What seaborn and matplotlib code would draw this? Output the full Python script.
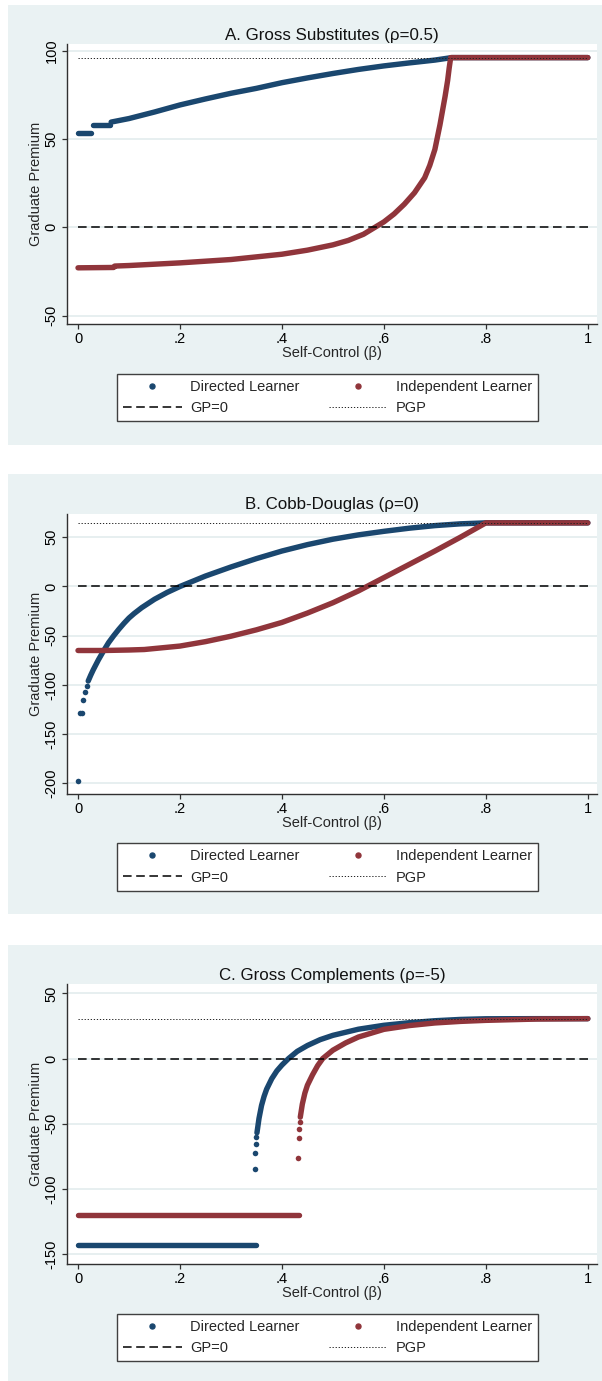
import matplotlib
matplotlib.use("Agg")
import matplotlib.pyplot as plt
from matplotlib.lines import Line2D
from matplotlib.patches import Rectangle
import pandas as pd
import seaborn as sns

BLUE = "#1A476F"
RED = "#90353B"
BG = "#EAF2F3"
GRID = "#E3ECEE"
INK = "#303030"

X_TICKS = [0, 0.2, 0.4, 0.6, 0.8, 1.0]
X_TICKLABELS = ["0", ".2", ".4", ".6", ".8", "1"]
TITLES = ["A. Gross Substitutes (ρ=0.5)", "B. Cobb-Douglas (ρ=0)", "C. Gross Complements (ρ=-5)"]
LEGEND_LABELS = ["Directed Learner", "Independent Learner", "GP=0", "PGP"]

# perfect graduate premium (dotted line) per panel
pgp = [96.0, 64.6, 30.6]

# Panel A: gross substitutes
a_dir_beta = [0.0, 0.025, 0.03, 0.062, 0.065, 0.1, 0.15, 0.2, 0.25, 0.3, 0.35, 0.4, 0.45,
              0.5, 0.55, 0.6, 0.65, 0.7, 0.733, 0.8, 0.9, 1.0]
a_dir_gp = [53.5, 53.5, 57.8, 57.8, 59.5, 61.5, 65.2, 69.2, 72.6, 75.8, 78.6, 81.8, 84.5,
            87.0, 89.3, 91.3, 93.0, 94.6, 96.0, 96.0, 96.0, 96.0]
a_dir_seg = [0, 0, 1, 1] + [2] * 18

a_ind_beta = [0.0, 0.07, 0.072, 0.1, 0.2, 0.3, 0.4, 0.45, 0.5, 0.53, 0.56, 0.58, 0.6, 0.62,
              0.64, 0.66, 0.68, 0.69, 0.7, 0.705, 0.71, 0.715, 0.72, 0.725, 0.728, 0.731,
              0.8, 0.9, 1.0]
a_ind_gp = [-23.0, -22.8, -22.0, -21.7, -20.2, -18.3, -15.3, -13.0, -10.0, -7.5, -4.0, -0.5,
            3.0, 7.5, 13.0, 19.5, 28.0, 35.0, 44.0, 51.0, 58.0, 66.0, 74.0, 83.0, 90.0, 96.0,
            96.0, 96.0, 96.0]

# Panel B: Cobb-Douglas
b_dir_dot_beta = [0.0, 0.004, 0.007, 0.009, 0.0135, 0.017]
b_dir_dot_gp = [-198.0, -128.0, -128.0, -115.5, -107.5, -101.0]
b_dir_beta = [0.02, 0.025, 0.03, 0.035, 0.04, 0.05, 0.06, 0.07, 0.08, 0.09, 0.1, 0.11,
              0.125, 0.15, 0.175, 0.2, 0.25, 0.3, 0.35, 0.4, 0.45, 0.5, 0.55, 0.6, 0.65,
              0.7, 0.75, 0.8, 0.9, 1.0]
b_dir_gp = [-96.0, -90.0, -84.5, -79.5, -74.5, -65.5, -57.0, -50.0, -43.5, -37.5, -32.0,
            -27.5, -21.5, -13.0, -6.0, 0.0, 10.6, 19.8, 28.3, 36.0, 42.5, 48.0, 52.4, 56.0,
            59.2, 61.8, 63.6, 64.6, 64.6, 64.6]

b_ind_beta = [0.0, 0.05, 0.1, 0.13, 0.15, 0.2, 0.25, 0.3, 0.35, 0.4, 0.45, 0.5, 0.55, 0.6,
              0.65, 0.7, 0.75, 0.8, 0.9, 1.0]
b_ind_gp = [-65.0, -65.0, -64.5, -64.0, -63.0, -60.5, -56.0, -50.5, -44.0, -36.5, -27.0,
            -16.5, -4.5, 9.0, 22.5, 36.0, 50.0, 64.6, 64.6, 64.6]

# Panel C: gross complements
c_dir_flat_beta = [0.0, 0.349]
c_dir_flat_gp = [-143.5, -143.5]
c_dir_dot_beta = [0.347, 0.348, 0.349, 0.35]
c_dir_dot_gp = [-85.0, -72.5, -65.5, -60.5]
c_dir_beta = [0.351, 0.355, 0.36, 0.365, 0.37, 0.38, 0.39, 0.4, 0.413, 0.43, 0.45, 0.475,
              0.5, 0.55, 0.6, 0.65, 0.7, 0.75, 0.8, 0.9, 1.0]
c_dir_gp = [-57.0, -46.0, -36.0, -29.0, -23.5, -15.5, -9.5, -5.0, 0.0, 5.5, 10.0, 14.5,
            17.8, 22.5, 25.5, 27.5, 29.0, 30.0, 30.5, 30.6, 30.6]

c_ind_flat_beta = [0.0, 0.434]
c_ind_flat_gp = [-120.0, -120.0]
c_ind_dot_beta = [0.432, 0.433, 0.434, 0.435]
c_ind_dot_gp = [-76.5, -61.0, -54.0, -49.0]
c_ind_beta = [0.436, 0.44, 0.445, 0.45, 0.46, 0.47, 0.48, 0.5, 0.525, 0.55, 0.6, 0.65, 0.7,
              0.75, 0.8, 0.9, 1.0]
c_ind_gp = [-45.0, -35.0, -26.5, -20.5, -12.5, -5.5, 0.0, 6.4, 12.0, 16.5, 22.4, 25.3, 27.3,
            28.5, 29.3, 30.3, 30.6]

Y_TICKS = [[-50, 0, 50, 100], [-200, -150, -100, -50, 0, 50], [-150, -100, -50, 0, 50]]
Y_LIMS = [(-54.8, 103.7), (-210.2, 74.1), (-157.7, 57.2)]

sns.set_style("ticks")
plt.rcParams["font.family"] = ["Liberation Sans", "DejaVu Sans"]
plt.rcParams["lines.scale_dashes"] = False
plt.rcParams["axes.unicode_minus"] = False

W, H = 602, 1381
LW = 3.9  # dense runs of points look like a thick band
DOT = 16


def band(ax, beta, gp, color, seg=None):
    if seg is None:
        seg = [0] * len(beta)
    df = pd.DataFrame({"beta": beta, "gp": gp, "seg": seg})
    sns.lineplot(data=df, x="beta", y="gp", units="seg", estimator=None, sort=False,
                 color=color, linewidth=LW, solid_capstyle="round", ax=ax, legend=False)


def dots(ax, beta, gp, color):
    sns.scatterplot(x=beta, y=gp, color=color, s=DOT, linewidth=0, ax=ax, legend=False)


def style_panel(ax, k, top_px):
    ax.set_xlim(-0.0216, 1.018)
    ax.set_ylim(*Y_LIMS[k])
    ax.set_xticks(X_TICKS, X_TICKLABELS)
    ax.set_yticks(Y_TICKS[k])
    ax.grid(axis="y", color=GRID, linewidth=1.2, zorder=0)
    ax.set_axisbelow(True)
    for side in ["top", "right"]:
        ax.spines[side].set_visible(False)
    for side in ["left", "bottom"]:
        ax.spines[side].set_color(INK)
        ax.spines[side].set_linewidth(1.0)
    ax.tick_params(axis="both", direction="out", length=3.6, width=0.9, color=INK,
                   labelsize=10.5, pad=2.4, labelcolor="black")
    ax.tick_params(axis="y", labelrotation=90)
    for t in ax.get_yticklabels():
        t.set_va("center")
    ax.set_xlabel("Self-Control (β)", fontsize=10.5, labelpad=0)
    ax.set_ylabel("Graduate Premium", fontsize=10.5, labelpad=1)
    ax.set_title(TITLES[k], fontsize=12.2, pad=3, color="#111111")
    # reference lines drawn over the data
    ax.hlines(0, 0, 1, colors="black", linewidth=1.1, linestyles=(0, (6.2, 3.3)), zorder=5)
    ax.hlines(pgp[k], 0, 1, colors="#222222", linewidth=0.7, linestyles=(0, (0.9, 1.3)),
              zorder=5)

    h_dir = Line2D([], [], marker="o", linestyle="none", color=BLUE, markersize=3.6)
    h_ind = Line2D([], [], marker="o", linestyle="none", color=RED, markersize=3.6)
    h_gp0 = Line2D([], [], color="black", linewidth=1.1, linestyle=(0, (6.2, 3.3)))
    h_pgp = Line2D([], [], color="#222222", linewidth=0.7, linestyle=(0, (0.9, 1.3)))
    # legend fills column by column, so order gives two rows: markers, then lines
    handles = [h_dir, h_gp0, h_ind, h_pgp]
    labels = [LEGEND_LABELS[0], LEGEND_LABELS[2], LEGEND_LABELS[1], LEGEND_LABELS[3]]
    leg_top = top_px + 280 + 49.5
    leg = ax.legend(handles, labels, ncol=2, loc="upper left",
                    bbox_to_anchor=(117 / W, 1 - leg_top / H), bbox_transform=fig.transFigure,
                    fontsize=10.5, handlelength=4.0, handletextpad=0.6, columnspacing=2.0,
                    labelspacing=0.5, borderpad=0.43, borderaxespad=0, fancybox=False,
                    frameon=True, framealpha=1)
    leg.get_frame().set_edgecolor("#404040")
    leg.get_frame().set_linewidth(1.0)


fig = plt.figure(figsize=(W / 100, H / 100), dpi=100, facecolor="white")

plot_tops = [44, 513.5, 984]
for top in plot_tops:
    bg_top = top - 39.5
    bg_bot = min(top + 280 + 120.5, H)
    fig.patches.append(Rectangle((8 / W, 1 - bg_bot / H), 1 - 8 / W, (bg_bot - bg_top) / H,
                                 transform=fig.transFigure, facecolor=BG, edgecolor="none",
                                 zorder=-10))

axes = [fig.add_axes([67 / W, 1 - (t + 280) / H, 530 / W, 280 / H]) for t in plot_tops]
for ax in axes:
    ax.set_facecolor("white")

# A
ax = axes[0]
band(ax, a_dir_beta, a_dir_gp, BLUE, a_dir_seg)
band(ax, a_ind_beta, a_ind_gp, RED)
style_panel(ax, 0, plot_tops[0])

# B
ax = axes[1]
dots(ax, b_dir_dot_beta, b_dir_dot_gp, BLUE)
band(ax, b_dir_beta, b_dir_gp, BLUE)
band(ax, b_ind_beta, b_ind_gp, RED)
style_panel(ax, 1, plot_tops[1])

# C
ax = axes[2]
band(ax, c_dir_flat_beta, c_dir_flat_gp, BLUE)
dots(ax, c_dir_dot_beta, c_dir_dot_gp, BLUE)
band(ax, c_dir_beta, c_dir_gp, BLUE)
band(ax, c_ind_flat_beta, c_ind_flat_gp, RED)
dots(ax, c_ind_dot_beta, c_ind_dot_gp, RED)
band(ax, c_ind_beta, c_ind_gp, RED)
style_panel(ax, 2, plot_tops[2])

fig.savefig("out.png", dpi=100, facecolor="white")
